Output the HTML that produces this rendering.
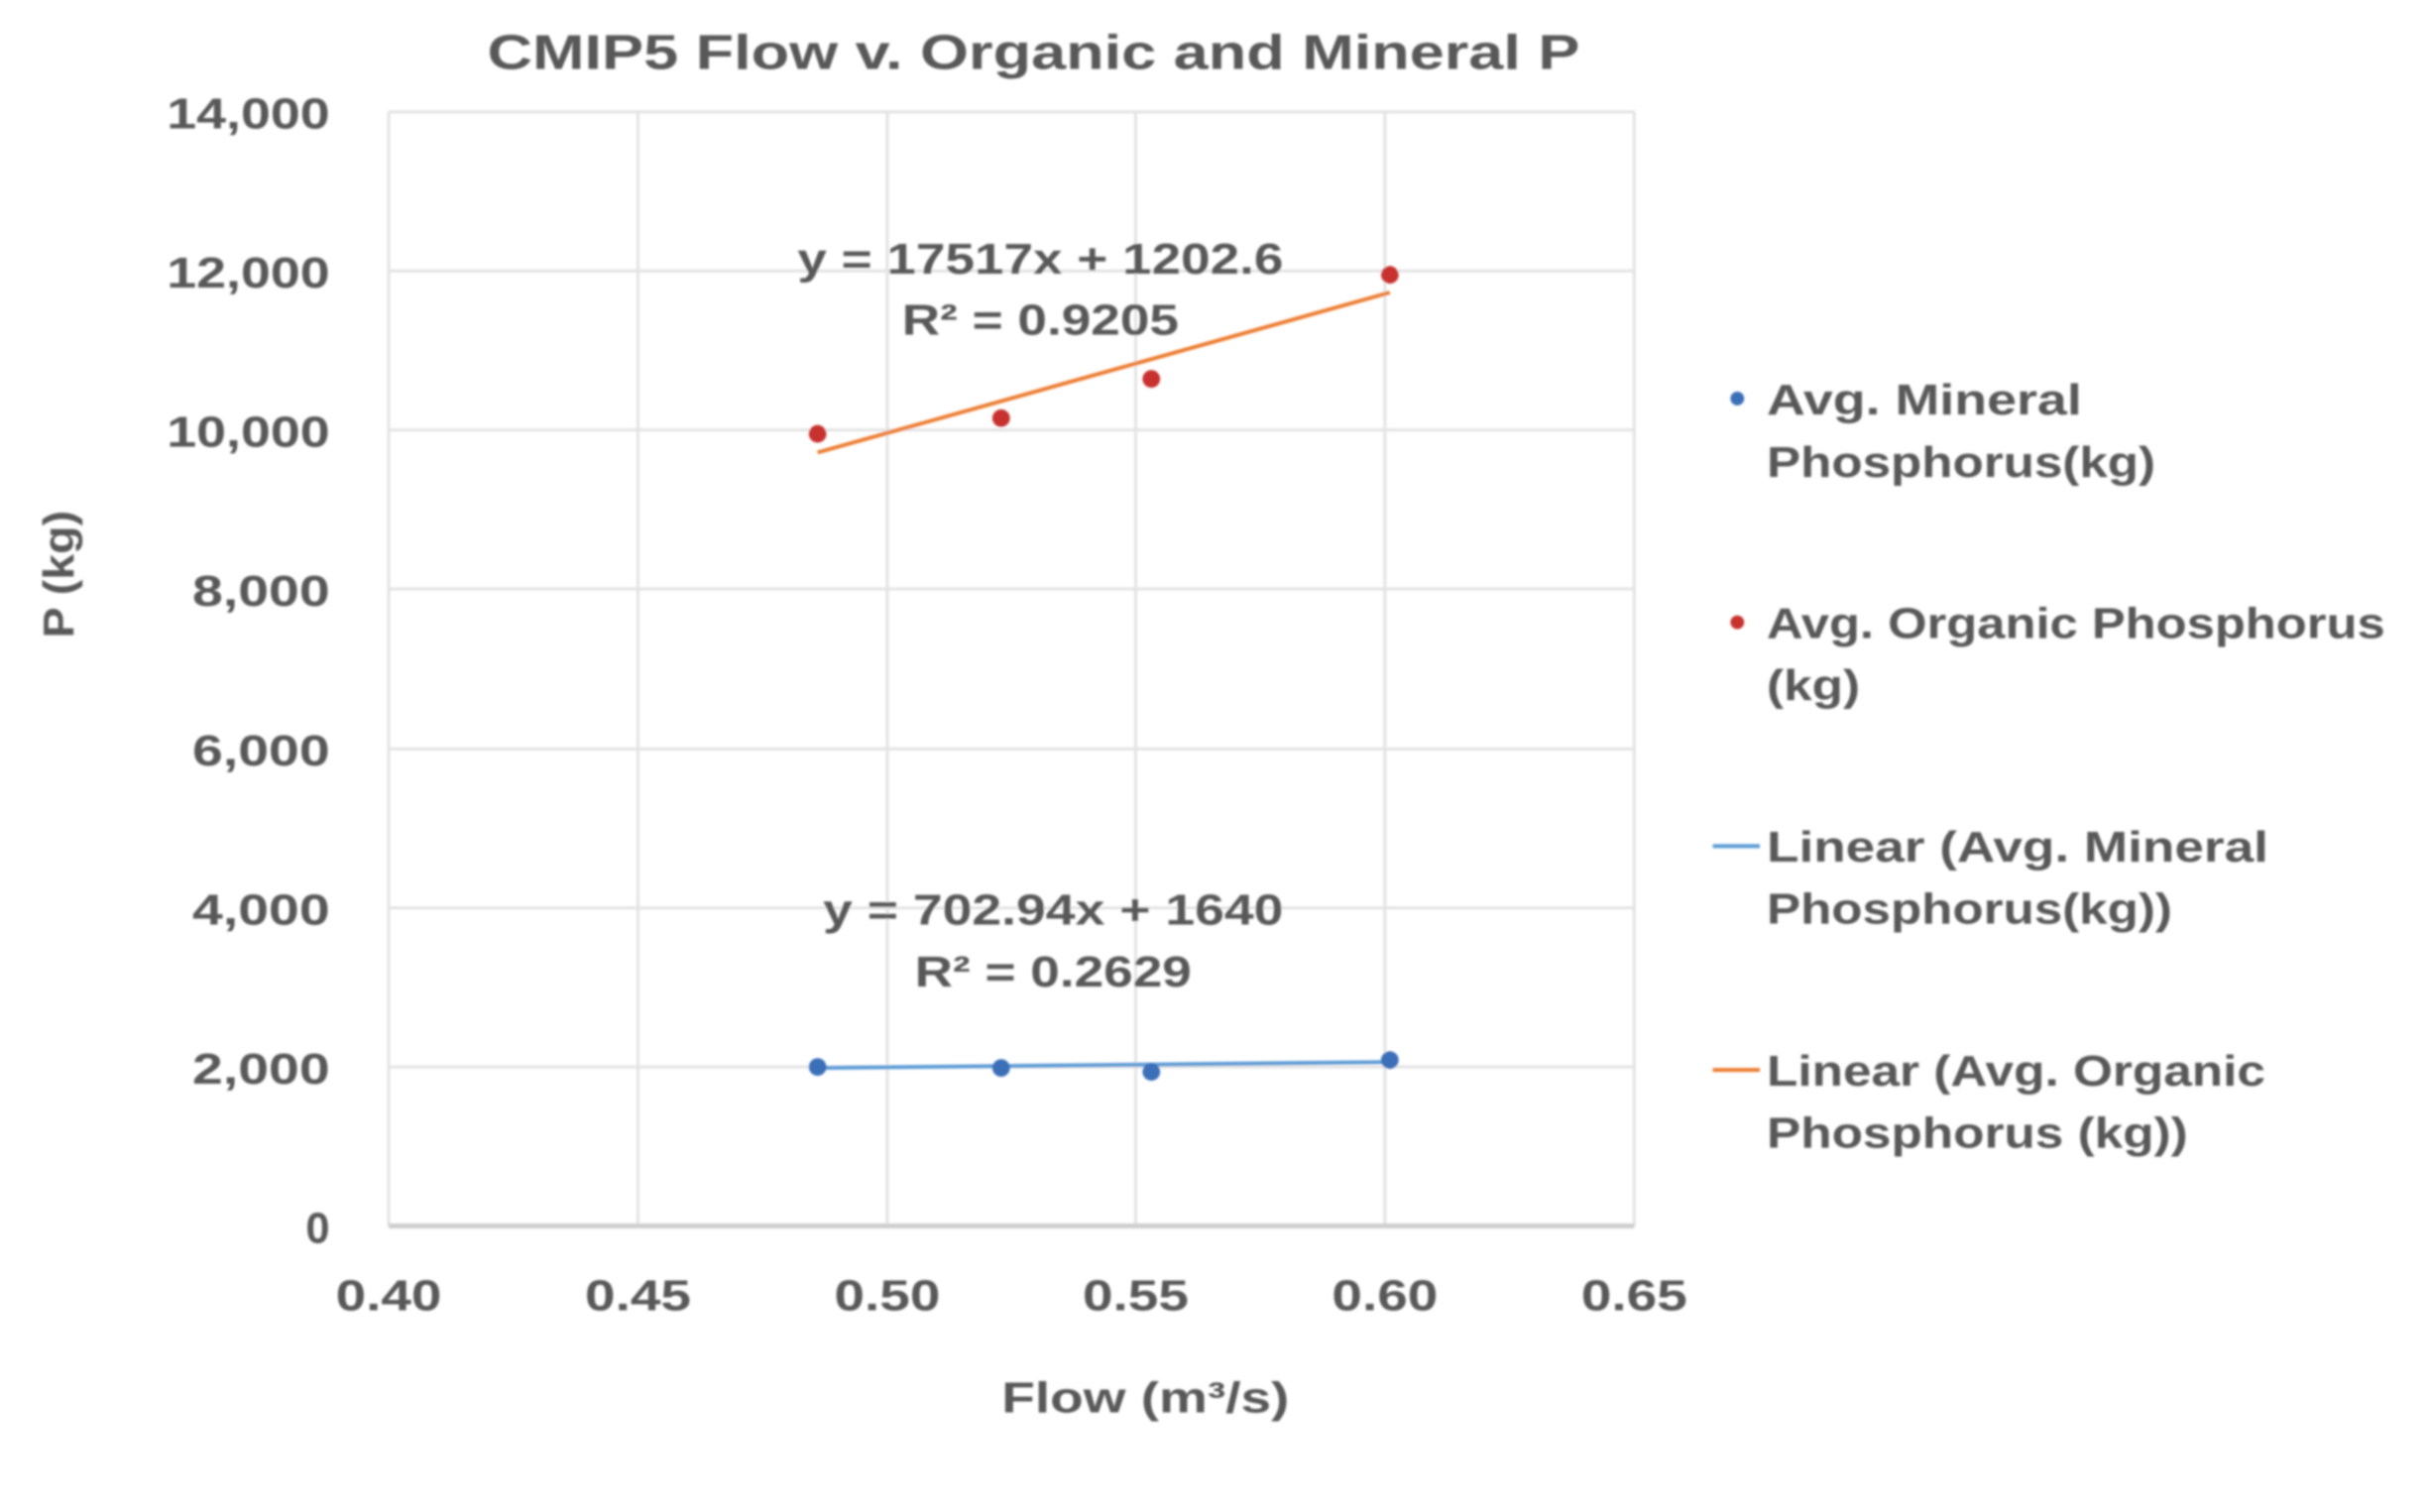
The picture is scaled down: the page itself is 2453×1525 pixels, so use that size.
<!DOCTYPE html>
<html><head><meta charset="utf-8"><style>
html,body{margin:0;padding:0;background:#fff;}
svg{display:block;}
text{font-family:"Liberation Sans",sans-serif;fill:#595959;font-weight:bold;}
</style></head><body>
<svg width="2453" height="1525" viewBox="0 0 2453 1525" xmlns="http://www.w3.org/2000/svg">
<defs><filter id="b"><feGaussianBlur stdDeviation="1.2"/></filter></defs>
<rect width="2453" height="1525" fill="#fff"/>
<g filter="url(#b)" transform="scale(0.99)">
<g stroke="#e3e3e3" stroke-width="3">
<line x1="396" y1="114" x2="1665" y2="114"/>
<line x1="396" y1="276" x2="1665" y2="276"/>
<line x1="396" y1="438" x2="1665" y2="438"/>
<line x1="396" y1="600" x2="1665" y2="600"/>
<line x1="396" y1="763" x2="1665" y2="763"/>
<line x1="396" y1="925" x2="1665" y2="925"/>
<line x1="396" y1="1087" x2="1665" y2="1087"/>
<line x1="396" y1="114" x2="396" y2="1249"/>
<line x1="650" y1="114" x2="650" y2="1249"/>
<line x1="904" y1="114" x2="904" y2="1249"/>
<line x1="1157" y1="114" x2="1157" y2="1249"/>
<line x1="1411" y1="114" x2="1411" y2="1249"/>
<line x1="1665" y1="114" x2="1665" y2="1249"/>
</g>
<line x1="396" y1="1249" x2="1665" y2="1249" stroke="#cfcfcf" stroke-width="5"/>

<text x="1053" y="70" font-size="50" text-anchor="middle" textLength="1113" lengthAdjust="spacingAndGlyphs">CMIP5 Flow v. Organic and Mineral P</text>

<g font-size="44" text-anchor="end">
<text x="336" y="131" textLength="166" lengthAdjust="spacingAndGlyphs">14,000</text>
<text x="336" y="293" textLength="166" lengthAdjust="spacingAndGlyphs">12,000</text>
<text x="336" y="455" textLength="166" lengthAdjust="spacingAndGlyphs">10,000</text>
<text x="336" y="617" textLength="140" lengthAdjust="spacingAndGlyphs">8,000</text>
<text x="336" y="780" textLength="140" lengthAdjust="spacingAndGlyphs">6,000</text>
<text x="336" y="942" textLength="140" lengthAdjust="spacingAndGlyphs">4,000</text>
<text x="336" y="1104" textLength="140" lengthAdjust="spacingAndGlyphs">2,000</text>
<text x="336" y="1266">0</text>
</g>
<g font-size="44" text-anchor="middle">
<text x="396" y="1335" textLength="108" lengthAdjust="spacingAndGlyphs">0.40</text>
<text x="650" y="1335" textLength="108" lengthAdjust="spacingAndGlyphs">0.45</text>
<text x="904" y="1335" textLength="108" lengthAdjust="spacingAndGlyphs">0.50</text>
<text x="1157" y="1335" textLength="108" lengthAdjust="spacingAndGlyphs">0.55</text>
<text x="1411" y="1335" textLength="108" lengthAdjust="spacingAndGlyphs">0.60</text>
<text x="1665" y="1335" textLength="108" lengthAdjust="spacingAndGlyphs">0.65</text>
<text x="1167" y="1439" textLength="293" lengthAdjust="spacingAndGlyphs">Flow (m³/s)</text>
<text transform="translate(75,585) rotate(-90)" textLength="130" lengthAdjust="spacingAndGlyphs">P (kg)</text>
</g>

<line x1="833" y1="461" x2="1416" y2="298" stroke="#ed7d31" stroke-width="4"/>
<line x1="833" y1="1088" x2="1416" y2="1082" stroke="#5b9bd5" stroke-width="4"/>
<g fill="#c8322f">
<circle cx="833" cy="442" r="9"/><circle cx="1020" cy="426" r="9"/><circle cx="1173" cy="386" r="9"/><circle cx="1416" cy="280" r="9"/>
</g>
<g fill="#3a70b8">
<circle cx="833" cy="1087" r="9"/><circle cx="1020" cy="1088" r="9"/><circle cx="1173" cy="1092" r="9"/><circle cx="1416" cy="1080" r="9"/>
</g>

<g font-size="44" text-anchor="middle">
<text x="1060" y="279" textLength="495" lengthAdjust="spacingAndGlyphs">y = 17517x + 1202.6</text>
<text x="1060" y="341" textLength="282" lengthAdjust="spacingAndGlyphs">R² = 0.9205</text>
<text x="1073" y="942" textLength="469" lengthAdjust="spacingAndGlyphs">y = 702.94x + 1640</text>
<text x="1073" y="1005" textLength="282" lengthAdjust="spacingAndGlyphs">R² = 0.2629</text>
</g>

<circle cx="1770" cy="406" r="7" fill="#3a70b8"/>
<circle cx="1770" cy="634" r="7" fill="#c8322f"/>
<line x1="1745" y1="862" x2="1793" y2="862" stroke="#5b9bd5" stroke-width="4"/>
<line x1="1745" y1="1090" x2="1793" y2="1090" stroke="#ed7d31" stroke-width="4"/>
<g font-size="44">
<text x="1800" y="422" textLength="321" lengthAdjust="spacingAndGlyphs">Avg. Mineral</text>
<text x="1800" y="486" textLength="396" lengthAdjust="spacingAndGlyphs">Phosphorus(kg)</text>
<text x="1800" y="650" textLength="630" lengthAdjust="spacingAndGlyphs">Avg. Organic Phosphorus</text>
<text x="1800" y="713" textLength="95" lengthAdjust="spacingAndGlyphs">(kg)</text>
<text x="1800" y="878" textLength="511" lengthAdjust="spacingAndGlyphs">Linear (Avg. Mineral</text>
<text x="1800" y="941" textLength="413" lengthAdjust="spacingAndGlyphs">Phosphorus(kg))</text>
<text x="1800" y="1106" textLength="508" lengthAdjust="spacingAndGlyphs">Linear (Avg. Organic</text>
<text x="1800" y="1169" textLength="429" lengthAdjust="spacingAndGlyphs">Phosphorus (kg))</text>
</g>
</g>
</svg>
</body></html>
